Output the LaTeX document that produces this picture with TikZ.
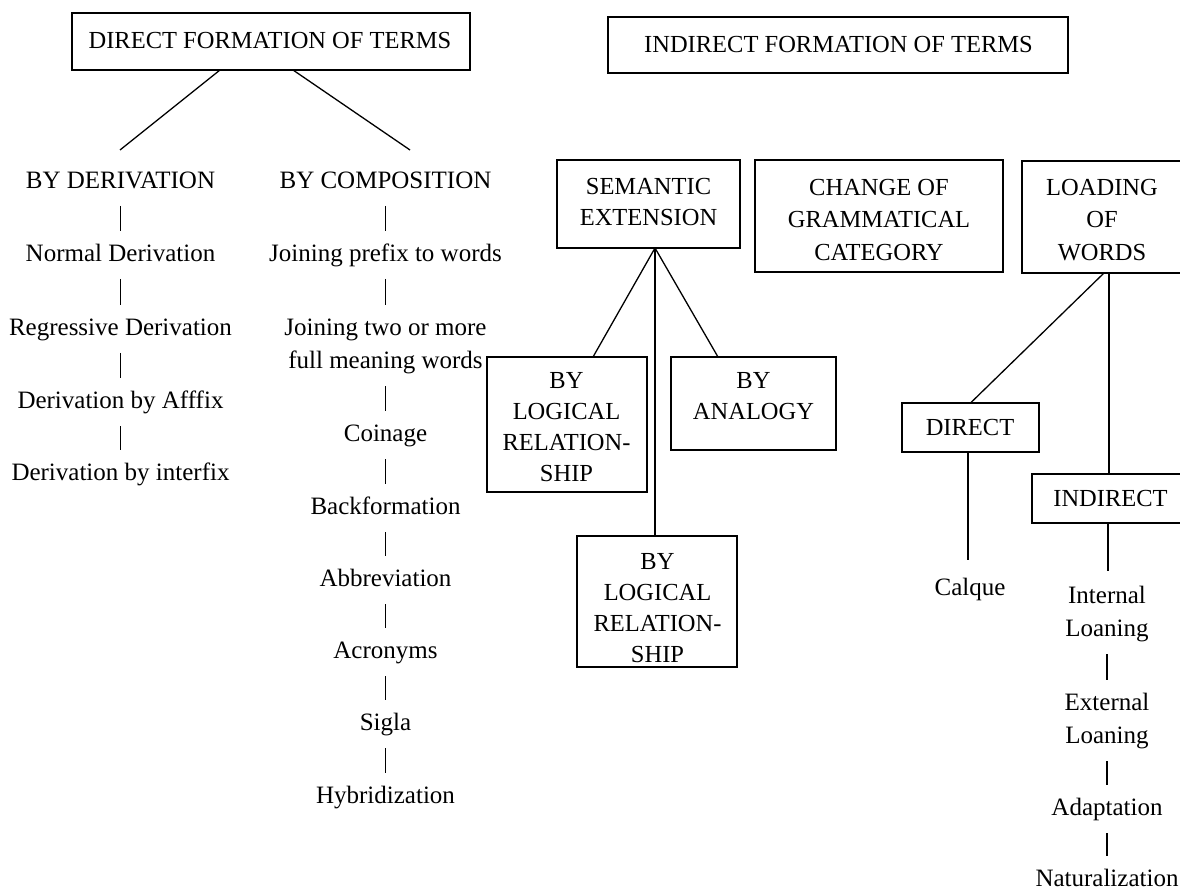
\documentclass[tikz,border=0pt]{standalone}
\usepackage{fontspec}
\setmainfont{Liberation Serif}
\begin{document}
\begin{tikzpicture}[x=1pt,y=-1pt,
  every node/.style={inner sep=0pt, outer sep=0pt},
  bx/.style 2 args={draw, line width=1.2pt, minimum width=#1, minimum height=#2},
  tx/.style={font=\fontsize{24.5}{31}\selectfont, align=center},
  txw/.style={font=\fontsize{24.5}{32.5}\selectfont, align=center},
  it/.style={font=\fontsize{25}{33}\selectfont, text height=17pt, text depth=0pt},
  ln/.style={line width=1.3pt},
  bar/.style={line width=1.6pt, shorten <=26pt, shorten >=22pt}]
\useasboundingbox (0,0) rectangle (1180,890);

% ---------- direct formation ----------
\node[bx={398}{57}] (dftb) at (271,41.5) {};
\node[tx] (dft) at (270,41) {DIRECT FORMATION OF TERMS};
\coordinate (dl) at (120,150);
\coordinate (dr) at (410,150);
\draw[ln] ([xshift=-51pt]dftb.south) -- (dl);
\draw[ln] ([xshift=22pt]dftb.south) -- (dr);

\node[it] (byd) at (120.5,180) {BY DERIVATION};
\node[it] (nd)  at (120.5,253) {Normal Derivation};
\node[it] (rd)  at (120.5,327) {Regressive Derivation};
\node[it] (da)  at (120.5,400) {Derivation by Afffix};
\node[it] (di)  at (120.5,472) {Derivation by interfix};
\draw[bar] (byd.center) -- (nd.center);
\draw[bar] (nd.center) -- (rd.center);
\draw[bar] (rd.center) -- (da.center);
\draw[bar] (da.center) -- (di.center);

\node[it] (byc) at (385.5,180) {BY COMPOSITION};
\node[it] (jp)  at (385.5,253) {Joining prefix to words};
\node[it] (jt)  at (385.5,327) {Joining two or more};
\node[it] (fm)  at (385.5,360) {full meaning words};
\node[it] (co)  at (385.5,433) {Coinage};
\node[it] (bf)  at (385.5,506) {Backformation};
\node[it] (ab)  at (385.5,578) {Abbreviation};
\node[it] (ac)  at (385.5,650) {Acronyms};
\node[it] (si)  at (385.5,722) {Sigla};
\node[it] (hy)  at (385.5,795) {Hybridization};
\draw[bar] (byc.center) -- (jp.center);
\draw[bar] (jp.center) -- (jt.center);
\draw[bar] (fm.center) -- (co.center);
\draw[bar] (co.center) -- (bf.center);
\draw[bar] (bf.center) -- (ab.center);
\draw[bar] (ab.center) -- (ac.center);
\draw[bar] (ac.center) -- (si.center);
\draw[bar] (si.center) -- (hy.center);

% ---------- indirect formation ----------
\node[bx={460}{56}] (iftb) at (838,45) {};
\node[tx] (ift) at (838.5,45) {INDIRECT FORMATION OF TERMS};

\node[bx={183}{88}] (semb) at (648.5,204) {};
\node[tx] (sem) at (648.5,202.5) {SEMANTIC\\EXTENSION};
\node[bx={248}{112}] (cgcb) at (879,216) {};
\node[txw] (cgc) at (879,220) {CHANGE OF\\GRAMMATICAL\\CATEGORY};
\node[bx={168}{112}] (lowb) at (1106,217) {};
\node[txw] (low) at (1102,220) {LOADING\\OF\\WORDS};

\node[bx={160}{135}] (bl1b) at (567,424.5) {};
\node[tx] (bl1) at (566.5,427) {BY\\LOGICAL\\RELATION-\\SHIP};
\node[bx={165}{93}] (banb) at (753.5,403.5) {};
\node[tx] (ban) at (753.5,396.5) {BY\\ANALOGY};
\node[bx={160}{131}] (bl2b) at (657,601.5) {};
\node[tx] (bl2) at (657.5,608) {BY\\LOGICAL\\RELATION-\\SHIP};

\coordinate (apex) at ([xshift=6.5pt]semb.south);
\draw[ln] (apex) -- ([xshift=26pt]bl1b.north);
\draw[ln] (apex) -- ([xshift=-2pt]bl2b.north);
\draw[ln] (apex) -- ([xshift=-35.5pt]banb.north);

\node[bx={137}{49}] (dirb) at (970.5,427.5) {};
\node[tx] (dir) at (970,428) {DIRECT};
\node[bx={163}{49}] (indb) at (1113.5,498.5) {};
\node[tx] (ind) at (1110.5,499) {INDIRECT};
\draw[ln] ([xshift=-2pt]lowb.south) -- (dirb.north);
\draw[ln] ([xshift=3pt]lowb.south) -- ([xshift=3pt]lowb.south |- indb.north);

\node[it] (cal) at (970,587) {Calque};
\draw[ln, shorten >=18.5pt] ([xshift=-2.5pt]dirb.south) -- ([xshift=-2.5pt]dirb.south |- cal.north);

\node[it] (il1) at (1107,595) {Internal};
\node[it] (il2) at (1107,628) {Loaning};
\node[it] (el1) at (1107,702) {External};
\node[it] (el2) at (1107,735) {Loaning};
\node[it] (ad)  at (1107,807) {Adaptation};
\node[it] (na)  at (1107,878) {Naturalization};
\draw[ln, shorten >=15.5pt] ([xshift=-5.5pt]indb.south) -- ([xshift=-5.5pt]indb.south |- il1.north);
\draw[bar] (il2.center) -- (el1.center);
\draw[bar] (el2.center) -- (ad.center);
\draw[bar] (ad.center) -- (na.center);
\end{tikzpicture}
\end{document}
